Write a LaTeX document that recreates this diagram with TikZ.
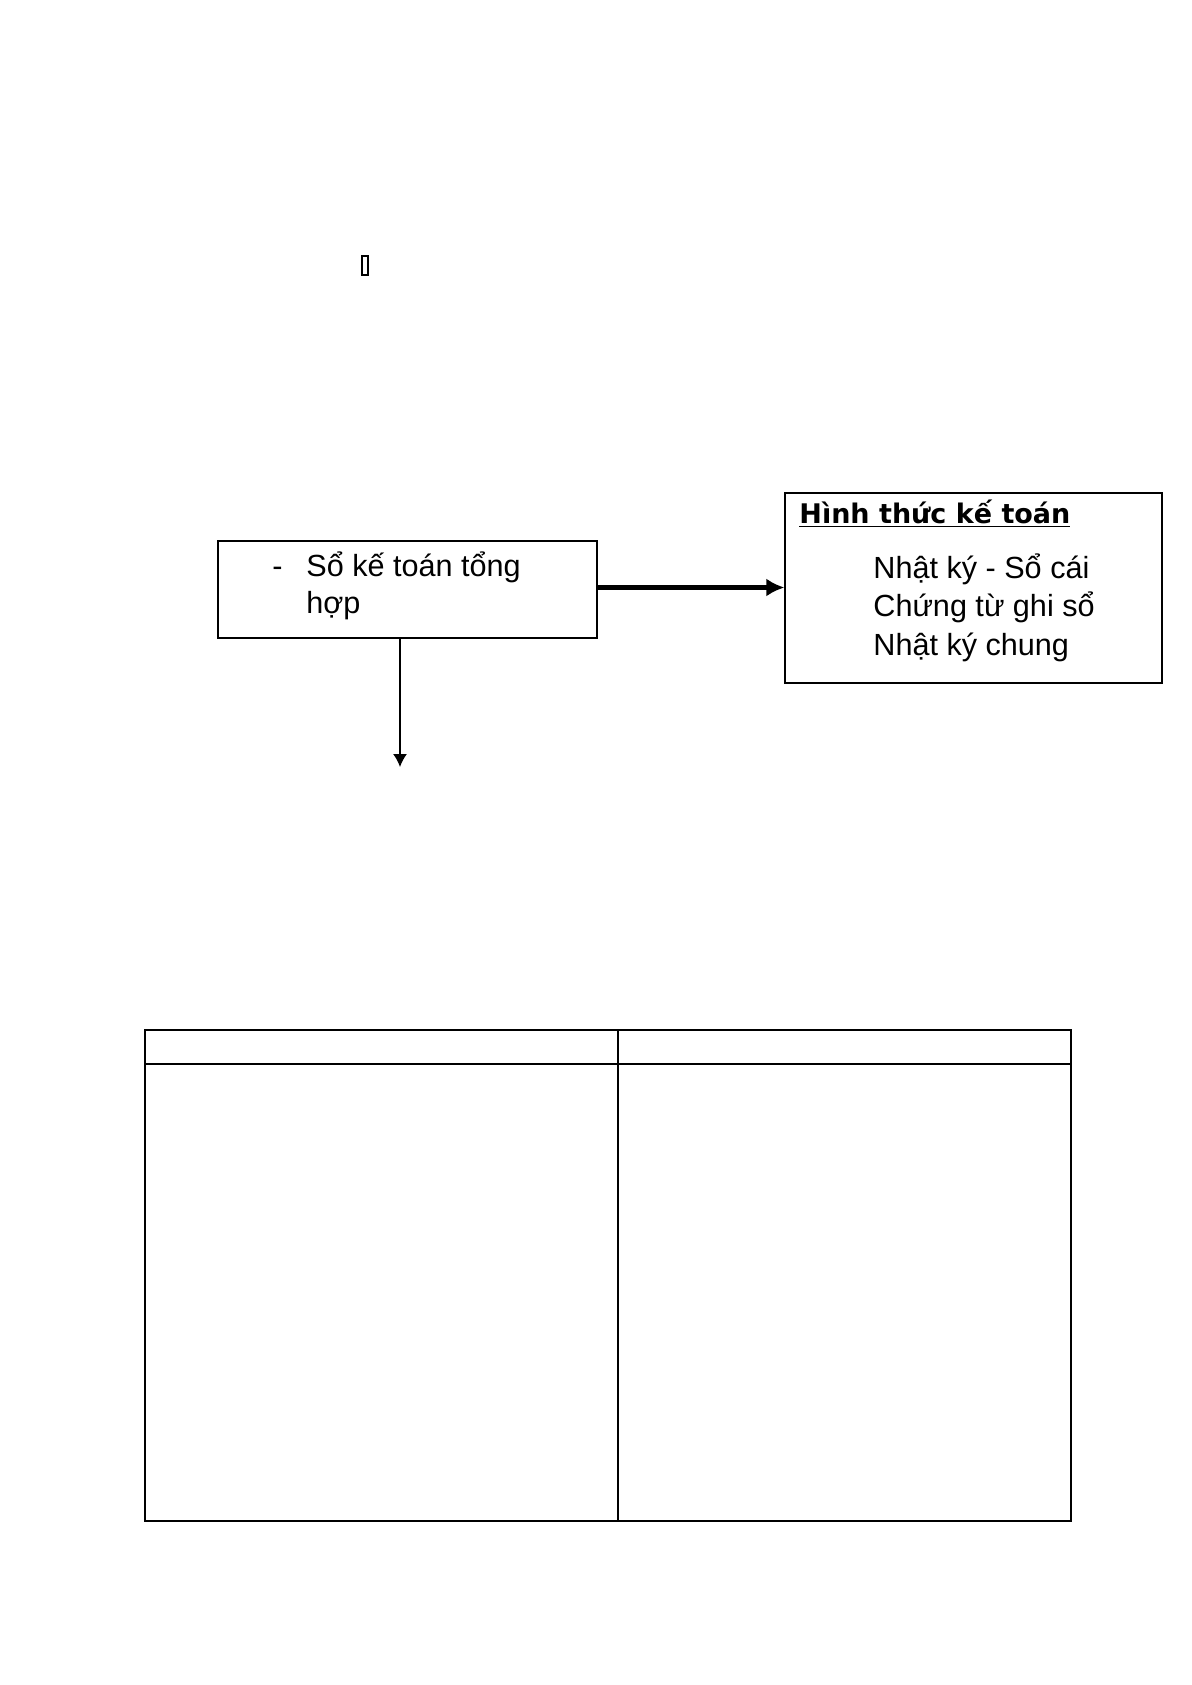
\documentclass[tikz,border=0pt]{standalone}
\usepackage{fontspec}
\setmainfont{Liberation Sans}
\newfontfamily\titrefont{DejaVu Sans}
\usetikzlibrary{arrows.meta,calc}
\tikzset{
    boite/.style={draw, rectangle, line width=0.6pt, inner sep=0pt},
    texte/.style={anchor=base west, inner sep=0pt, font=\fontsize{15.3}{18}\selectfont},
    fleche/.style={line width=2.3pt, -{Latex[length=9pt,width=9pt]}},
    flechefine/.style={line width=0.7pt, -{Latex[length=6.5pt,width=7pt]}},
  }

\begin{document}
\begin{tikzpicture}[x=0.5pt,y=-0.5pt]
				  \useasboundingbox (0,0) rectangle (1192,1685);
				  %glyphe manquant
				  \draw[line width=0.7pt] (362,256) rectangle (368,275);
				  
				  \node[boite, minimum width=189.5pt, minimum height=48.5pt] (tonghop) at (407.5,589.5) {};
				  \node[texte] (tiret) at (272,576) {-};
				  \node[texte] (so1) at (306,576) {Sổ kế toán tổng};
				  \node[texte] (so2) at (306,613) {hợp};
				  
				  \node[boite, minimum width=188.5pt, minimum height=95pt] (hinhthuc) at (973.5,588) {};
				  \node[anchor=base west, inner sep=0pt, font=\titrefont\bfseries\fontsize{13.5}{16}\selectfont] (titre) at (799,523) {\underline{Hình thức kế toán}};
				  \node[texte] (nk1) at (873,578) {Nhật ký - Sổ cái};
				  \node[texte] (ct) at (873,616) {Chứng từ ghi sổ};
				  \node[texte] (nk2) at (873,655) {Nhật ký chung};
				  
				  \draw[fleche] ([yshift=1pt]tonghop.east) -- ([yshift=1pt]tonghop.east -| hinhthuc.west);
				  \coordinate (bas) at (400,767);
				  \draw[flechefine] (bas |- tonghop.south) -- (bas);
				  
				  %tableau
				  \draw[line width=0.6pt] (145,1030) rectangle (1071,1521);
				  \draw[line width=0.6pt] (618,1030) -- (618,1521);
				  \draw[line width=0.6pt] (145,1064) -- (1071,1064);
				  \end{tikzpicture}
\end{document}
